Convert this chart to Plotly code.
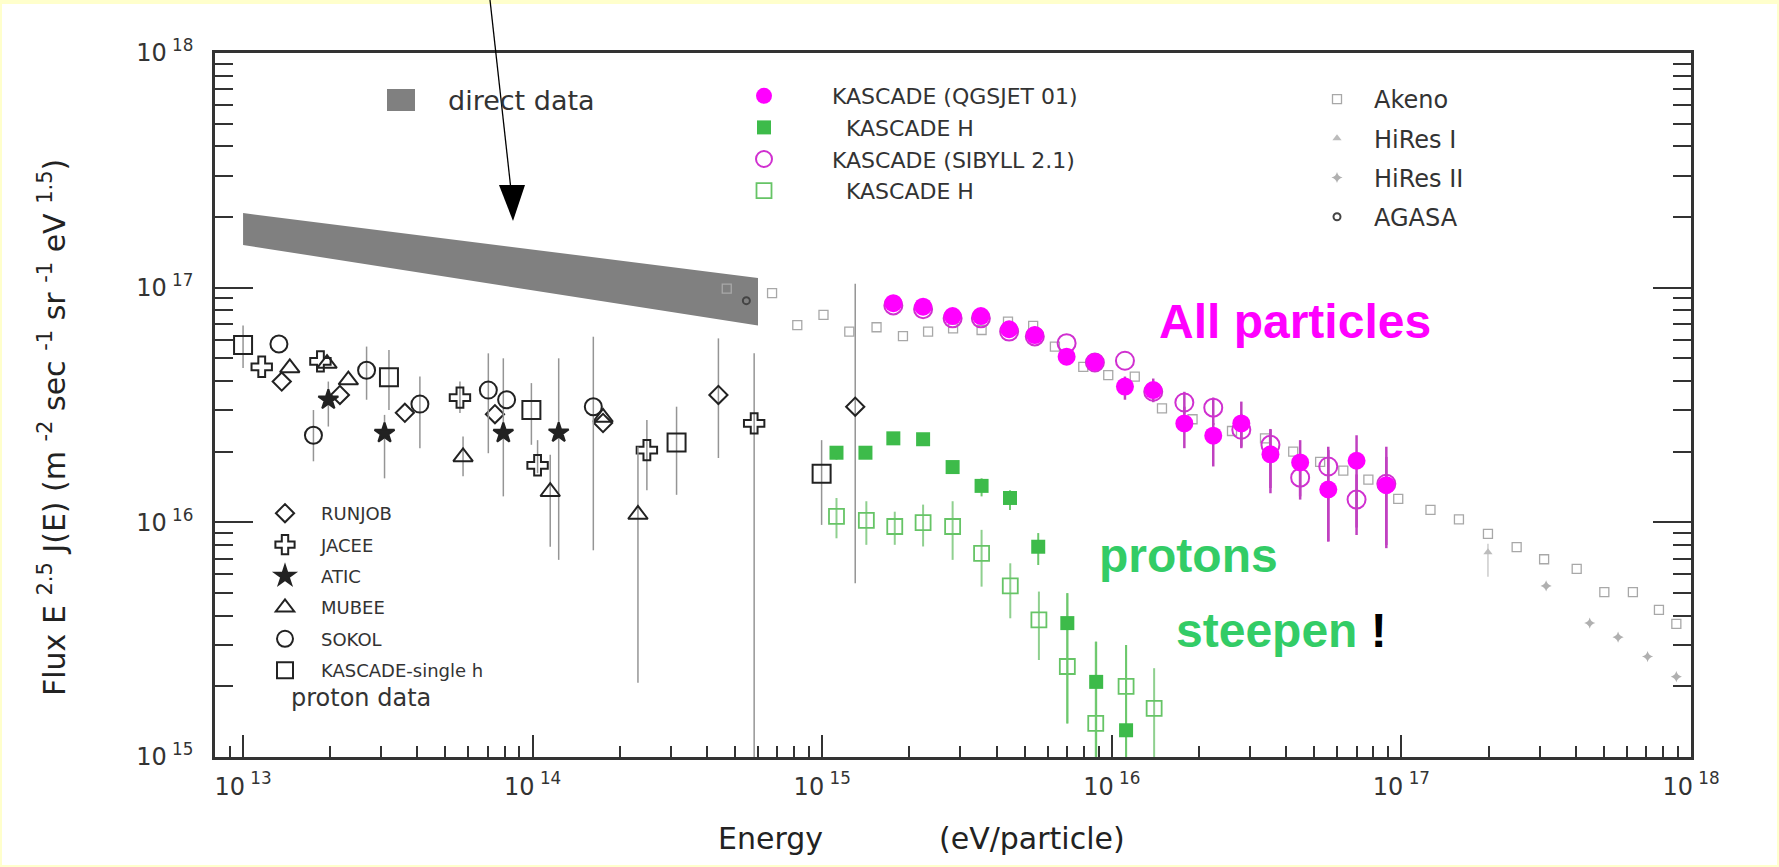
import plotly.graph_objects as go

# ---------------- data: energy E (eV) and flux E^2.5 J(E) ----------------
# direct measurements band (upper / lower edge)
band_E = [1.0e13, 6.0e14]
band_upper = [2.08e17, 1.10e17]
band_lower = [1.52e17, 6.9e16]

# proton data
runjob_E = [1.36e13, 2.16e13, 3.62e13, 7.41e13, 1.75e14, 4.38e14, 1.30e15]
runjob_F = [3.98e16, 3.49e16, 2.93e16, 2.89e16, 2.65e16, 3.49e16, 3.11e16]
runjob_hi = [None, None, None, None, None, 6.08e16, 1.04e17]
runjob_lo = [None, None, None, None, None, 1.88e16, 5.5e15]

jacee_E = [1.16e13, 1.85e13, 5.61e13, 1.04e14, 2.48e14, 5.82e14]
jacee_F = [4.6e16, 4.85e16, 3.4e16, 1.75e16, 2.03e16, 2.64e16]
jacee_hi = [None, None, 3.98e16, 2.24e16, 2.73e16, 5.25e16]
jacee_lo = [None, None, 2.92e16, 1.62e16, 1.37e16, 5.0e14]

atic_E = [1.97e13, 3.08e13, 7.92e13, 1.23e14]
atic_F = [3.33e16, 2.4e16, 2.4e16, 2.41e16]
atic_hi = [3.98e16, 2.87e16, 5.0e16, 5.0e16]
atic_lo = [2.56e16, 1.54e16, 1.29e16, 6.92e15]

mubee_E = [1.45e13, 1.95e13, 2.31e13, 5.75e13, 1.15e14, 1.75e14, 2.31e14]
mubee_F = [4.55e16, 4.75e16, 4.04e16, 1.9e16, 1.35e16, 2.8e16, 1.08e16]
mubee_hi = [None, None, None, 2.32e16, 1.94e16, None, 2.1e16]
mubee_lo = [None, None, None, 1.57e16, 7.87e15, None, 2.07e15]

sokol_E = [1.33e13, 1.75e13, 2.67e13, 4.08e13, 7.03e13, 8.13e13, 1.62e14]
sokol_F = [5.75e16, 2.35e16, 4.45e16, 3.19e16, 3.66e16, 3.33e16, 3.11e16]
sokol_hi = [None, 3.01e16, 5.61e16, 4.18e16, 5.25e16, None, 6.18e16]
sokol_lo = [None, 1.82e16, 3.33e16, 2.07e16, 1.97e16, None, 7.6e15]

ksh_E = [1.0e13, 3.19e13, 9.9e13, 3.14e14, 9.95e14]
ksh_F = [5.7e16, 4.15e16, 3.01e16, 2.19e16, 1.61e16]
ksh_hi = [6.9e16, 5.43e16, 3.92e16, 3.11e16, 2.24e16]
ksh_lo = [4.55e16, 3.01e16, 2.14e16, 1.31e16, 9.75e15]

# KASCADE all-particle spectra
kq_E = [1.76e15, 2.23e15, 2.82e15, 3.53e15, 4.42e15, 5.42e15, 6.98e15, 8.74e15, 1.11e16,
        1.39e16, 1.78e16, 2.24e16, 2.80e16, 3.53e16, 4.47e16, 5.59e16, 7.0e16, 8.87e16]
kq_F = [8.59e16, 8.3e16, 7.57e16, 7.57e16, 6.65e16, 6.28e16, 5.08e16, 4.82e16, 3.79e16,
        3.66e16, 2.64e16, 2.34e16, 2.64e16, 1.95e16, 1.8e16, 1.38e16, 1.83e16, 1.44e16]
kq_hi = [None] * 8 + [4.18e16, 4.1e16, 3.11e16, 2.65e16, 3.27e16, 2.48e16, 2.24e16, 2.03e16, 2.35e16, 2.1e16]
kq_lo = [None] * 8 + [3.33e16, 3.25e16, 2.07e16, 1.73e16, 2.07e16, 1.33e16, 1.29e16, 8.28e15, 8.83e15, 7.76e15]

ks_E = kq_E
ks_F = [8.4e16, 8.1e16, 7.4e16, 7.4e16, 6.5e16, 6.2e16, 5.8e16, 4.8e16, 4.88e16,
        3.6e16, 3.24e16, 3.08e16, 2.48e16, 2.14e16, 1.55e16, 1.73e16, 1.25e16, 1.46e16]
ks_hi = [None] * 10 + [3.6e16, 3.4e16, 2.9e16, 2.5e16, 1.9e16, 2.1e16, 1.6e16, 1.9e16]
ks_lo = [None] * 10 + [2.9e16, 2.6e16, 2.1e16, 1.4e16, 1.25e16, 8.3e15, 9.5e15, 8.0e15]

# KASCADE proton (H) spectra
khq_E = [1.12e15, 1.41e15, 1.76e15, 2.23e15, 2.82e15, 3.55e15, 4.45e15, 5.57e15, 7.02e15, 8.83e15, 1.12e16]
khq_F = [1.98e16, 1.98e16, 2.28e16, 2.26e16, 1.72e16, 1.43e16, 1.27e16, 7.87e15, 3.72e15, 2.09e15, 1.3e15]
khq_hi = [2.1e16, None, None, None, 1.82e16, 1.54e16, 1.37e16, 9.0e15, 4.99e15, 3.1e15, 3.0e15]
khq_lo = [1.85e16, None, None, None, 1.62e16, 1.29e16, 1.13e16, 6.58e15, 1.39e15, 8.0e14, 8.0e14]

khs_E = [1.12e15, 1.42e15, 1.78e15, 2.23e15, 2.82e15, 3.55e15, 4.46e15, 5.6e15, 7.02e15, 8.8e15, 1.12e16, 1.4e16]
khs_F = [1.06e16, 1.02e16, 9.6e15, 9.98e15, 9.6e15, 7.38e15, 5.36e15, 3.84e15, 2.43e15, 1.39e15, 2.0e15, 1.61e15]
khs_hi = [1.27e16, 1.23e16, 1.11e16, 1.19e16, 1.23e16, 9.29e15, 6.69e15, 5.07e15, 4.99e15, 3.1e15, 3.0e15, 2.39e15]
khs_lo = [8.55e15, 8.02e15, 8.02e15, 7.89e15, 6.92e15, 5.32e15, 3.9e15, 2.59e15, 1.39e15, 8.0e14, 8.0e14, 8.0e14]

# air-shower experiments
akeno_E = [4.68e14, 6.71e14, 8.2e14, 1.01e15, 1.24e15, 1.54e15, 1.9e15, 2.32e15, 2.83e15, 3.55e15,
           4.38e15, 5.35e15, 6.36e15, 7.97e15, 9.72e15, 1.2e16, 1.49e16, 1.9e16, 2.6e16, 3.38e16,
           4.23e16, 5.24e16, 6.3e16, 7.69e16, 9.75e16, 1.26e17, 1.58e17, 1.99e17, 2.5e17, 3.11e17,
           4.03e17, 5.02e17, 6.3e17, 7.75e17, 8.9e17]
akeno_F = [9.9e16, 9.47e16, 6.93e16, 7.66e16, 6.5e16, 6.78e16, 6.22e16, 6.5e16, 6.71e16, 6.6e16,
           7.16e16, 6.87e16, 5.61e16, 4.6e16, 4.24e16, 4.18e16, 3.06e16, 2.75e16, 2.45e16, 2.28e16,
           2.0e16, 1.81e16, 1.66e16, 1.52e16, 1.26e16, 1.13e16, 1.03e16, 8.93e15, 7.84e15, 6.96e15,
           6.33e15, 5.04e15, 5.04e15, 4.24e15, 3.69e15]
hires1_E = [1.99e17]
hires1_F = [7.46e15]
hires1_hi = [8.1e15]
hires1_lo = [5.87e15]
hires2_E = [3.16e17, 4.47e17, 5.6e17, 7.08e17, 8.9e17]
hires2_F = [5.36e15, 3.72e15, 3.24e15, 2.68e15, 2.2e15]
agasa_E = [5.47e14]
agasa_F = [8.8e16]

x_tick_vals = [1e13, 1e14, 1e15, 1e16, 1e17, 1e18]
x_tick_text = ["10<sup> 13</sup>", "10<sup> 14</sup>", "10<sup> 15</sup>",
               "10<sup> 16</sup>", "10<sup> 17</sup>", "10<sup> 18</sup>"]
y_tick_vals = [1e15, 1e16, 1e17, 1e18]
y_tick_text = ["10<sup> 15</sup>", "10<sup> 16</sup>", "10<sup> 17</sup>", "10<sup> 18</sup>"]

# ---------------- geometry helpers (pixel -> paper) ----------------
W, H = 1779, 867
PL, PR, PT, PB = 215, 1691, 53, 757


def px(x):
    return (x - PL) / (PR - PL)


def py(y):
    return (PB - y) / (PB - PT)


def errbars(vals, hi, lo, color, thick):
    plus = [(h - v) if h is not None else 0 for v, h in zip(vals, hi)]
    minus = [(v - l) if l is not None else 0 for v, l in zip(vals, lo)]
    return dict(type="data", symmetric=False, array=plus, arrayminus=minus,
                color=color, thickness=thick, width=0)


FONT = "DejaVu Sans"
INK = "#222222"
GRAY_ERR = "#959595"

fig = go.Figure()

# direct data band
fig.add_trace(go.Scatter(
    x=band_E + band_E[::-1], y=band_upper + band_lower[::-1],
    mode="lines", fill="toself", fillcolor="#808080", line=dict(width=0, color="#808080"),
    showlegend=False, hoverinfo="skip"))

# air-shower arrays (grey)
fig.add_trace(go.Scatter(x=akeno_E, y=akeno_F, mode="markers", name="Akeno",
                         marker=dict(symbol="square-open", size=9, color="#a8a8a8", line=dict(width=1.3)),
                         legend="legend2", legendgroup="akeno", legendrank=1))
fig.add_trace(go.Scatter(x=hires1_E, y=hires1_F, mode="markers", name="HiRes I",
                         error_y=errbars(hires1_F, hires1_hi, hires1_lo, "#cccccc", 1.5),
                         marker=dict(symbol="triangle-up", size=8, color="#bcbcbc"),
                         legend="legend2", legendgroup="hires1", legendrank=2))
fig.add_trace(go.Scatter(x=hires2_E, y=hires2_F, mode="markers", name="HiRes II",
                         marker=dict(symbol="star-diamond", size=8, color="#b0b0b0"),
                         legend="legend2", legendgroup="hires2", legendrank=3))
fig.add_trace(go.Scatter(x=agasa_E, y=agasa_F, mode="markers", name="AGASA",
                         marker=dict(symbol="circle-open", size=7, color="#444444", line=dict(width=2)),
                         legend="legend2", legendgroup="agasa", legendrank=4))

# proton data
proton_sets = [
    ("RUNJOB", runjob_E, runjob_F, runjob_hi, runjob_lo, "diamond-open", 14),
    ("JACEE", jacee_E, jacee_F, jacee_hi, jacee_lo, "cross-open", 17),
    ("ATIC", atic_E, atic_F, atic_hi, atic_lo, "star", 15),
    ("MUBEE", mubee_E, mubee_F, mubee_hi, mubee_lo, "triangle-up-open", 17),
    ("SOKOL", sokol_E, sokol_F, sokol_hi, sokol_lo, "circle-open", 17),
    ("KASCADE-single h", ksh_E, ksh_F, ksh_hi, ksh_lo, "square-open", 18),
]
for rank, (name, xs, ys, hi, lo, sym, size) in enumerate(proton_sets):
    fig.add_trace(go.Scatter(
        x=xs, y=ys, mode="markers", name=name,
        error_y=errbars(ys, hi, lo, GRAY_ERR, 1.5),
        marker=dict(symbol=sym, size=size, color=INK, line=dict(width=2, color=INK)),
        legend="legend3", legendgroup=name, legendrank=rank + 1))

# KASCADE proton spectra
fig.add_trace(go.Scatter(
    x=khs_E, y=khs_F, mode="markers", name="\u00a0\u00a0KASCADE H",
    error_y=errbars(khs_F, khs_hi, khs_lo, "#8fd08f", 2),
    marker=dict(symbol="square-open", size=15, color="#66c466", line=dict(width=1.8)),
    legend="legend", legendrank=4))
fig.add_trace(go.Scatter(
    x=khq_E, y=khq_F, mode="markers", name="\u00a0\u00a0KASCADE H",
    error_y=errbars(khq_F, khq_hi, khq_lo, "#6cc86c", 2),
    marker=dict(symbol="square", size=14, color="#3dbb4a", line=dict(width=0)),
    legend="legend", legendrank=2))

# KASCADE all-particle spectra
fig.add_trace(go.Scatter(
    x=ks_E, y=ks_F, mode="markers", name="KASCADE (SIBYLL 2.1)",
    error_y=errbars(ks_F, ks_hi, ks_lo, "#c040c0", 2.5),
    marker=dict(symbol="circle-open", size=18, color="#d030d0", line=dict(width=2)),
    legend="legend", legendrank=3))
fig.add_trace(go.Scatter(
    x=kq_E, y=kq_F, mode="markers", name="KASCADE (QGSJET 01)",
    error_y=errbars(kq_F, kq_hi, kq_lo, "#c040c0", 2.5),
    marker=dict(symbol="circle", size=18, color="#ff00ff", line=dict(width=0)),
    legend="legend", legendrank=1))

axis_common = dict(
    type="log", showgrid=False, zeroline=False, showline=True,
    linecolor="#333333", linewidth=2.5, ticks="inside", tickwidth=2, tickcolor="#333333",
    tickfont=dict(family=FONT, size=24, color="#333333"),
)

minor_x = [m * 10 ** e for e in range(12, 18) for m in range(2, 10) if 8e12 <= m * 10 ** e <= 1e18]
minor_y = [m * 10 ** e for e in range(15, 18) for m in range(2, 10)]

fig.update_xaxes(
    **axis_common, range=[12.90309, 18], mirror=True, ticklen=22,
    tickmode="array", tickvals=x_tick_vals, ticktext=x_tick_text, ticklabelstandoff=6,
    minor=dict(tickmode="array", tickvals=minor_x, ticks="inside", ticklen=11,
               tickwidth=2, tickcolor="#333333"))
fig.update_yaxes(
    **axis_common, range=[15, 18], mirror="ticks", ticklen=38,
    tickmode="array", tickvals=y_tick_vals, ticktext=y_tick_text, ticklabelstandoff=14,
    minor=dict(tickmode="array", tickvals=minor_y, ticks="inside", ticklen=18,
               tickwidth=2, tickcolor="#333333"))

legend_base = dict(xanchor="left", yanchor="top", bgcolor="rgba(0,0,0,0)", borderwidth=0)
fig.update_layout(
    width=W, height=H, autosize=False,
    margin=dict(l=PL, r=W - PR, t=PT, b=H - PB),
    paper_bgcolor="#ffffcc", plot_bgcolor="#ffffff",
    font=dict(family=FONT, color=INK),
    legend=dict(**legend_base, x=px(696), y=py(75), itemwidth=126, traceorder="normal",
                font=dict(family=FONT, size=22, color="#333333")),
    legend2=dict(**legend_base, x=px(1300), y=py(77), itemwidth=64, traceorder="grouped",
                 tracegroupgap=5, font=dict(family=FONT, size=24, color="#333333")),
    legend3=dict(**legend_base, x=px(249), y=py(495), itemwidth=62, traceorder="grouped",
                 tracegroupgap=5, font=dict(family=FONT, size=18, color="#333333")),
)

shapes = [
    # white page inside the thin yellow frame
    dict(type="rect", xref="paper", yref="paper", x0=px(2), x1=px(W - 2), y0=py(H - 2), y1=py(4),
         fillcolor="#ffffff", line=dict(width=0), layer="below"),
    # swatch for the direct data band
    dict(type="rect", xref="paper", yref="paper", x0=px(387), x1=px(415), y0=py(111), y1=py(89),
         fillcolor="#808080", line=dict(width=0)),
    # pointer arrow onto the direct data band
    dict(type="line", xref="paper", yref="paper", x0=px(490), y0=py(0), x1=px(511), y1=py(190),
         line=dict(color="#000000", width=1.3)),
    dict(type="path", xref="paper", yref="paper",
         path=f"M {px(513)},{py(221)} L {px(499)},{py(185)} L {px(525)},{py(185)} Z",
         fillcolor="#000000", line=dict(width=0)),
]
fig.update_layout(shapes=shapes)

bold = dict(family="Liberation Sans", size=48, weight="bold")
annotations = [
    dict(x=px(446), y=py(100), text="direct data", xanchor="left", yanchor="middle",
         font=dict(family=FONT, size=27, color="#333333")),
    dict(x=px(289), y=py(698), text="proton data", xanchor="left", yanchor="middle",
         font=dict(family=FONT, size=24, color="#333333")),
    dict(x=px(1157), y=py(321), text="All particles", xanchor="left", yanchor="middle",
         font=dict(**bold, color="#ff00ff")),
    dict(x=px(1097), y=py(555), text="protons", xanchor="left", yanchor="middle",
         font=dict(**bold, color="#33cc66")),
    dict(x=px(1174), y=py(630), text="steepen <span style='color:#000000'>!</span>",
         xanchor="left", yanchor="middle", font=dict(**bold, color="#33cc66")),
    dict(x=px(770), y=py(838), text="Energy", xanchor="center", yanchor="middle",
         font=dict(family=FONT, size=30, color="#222222")),
    dict(x=px(1032), y=py(838), text="(eV/particle)", xanchor="center", yanchor="middle",
         font=dict(family=FONT, size=30, color="#222222")),
    dict(x=px(52), y=py(428), textangle=-90, xanchor="center", yanchor="middle",
         text="Flux E <sup>2.5</sup> J(E) (m <sup>-2</sup> sec <sup>-1</sup> sr <sup>-1</sup> eV <sup>1.5</sup>)",
         font=dict(family=FONT, size=30, color="#222222")),
]
for a in annotations:
    a.update(xref="paper", yref="paper", showarrow=False)
fig.update_layout(annotations=annotations)

fig.write_html("out.html")
